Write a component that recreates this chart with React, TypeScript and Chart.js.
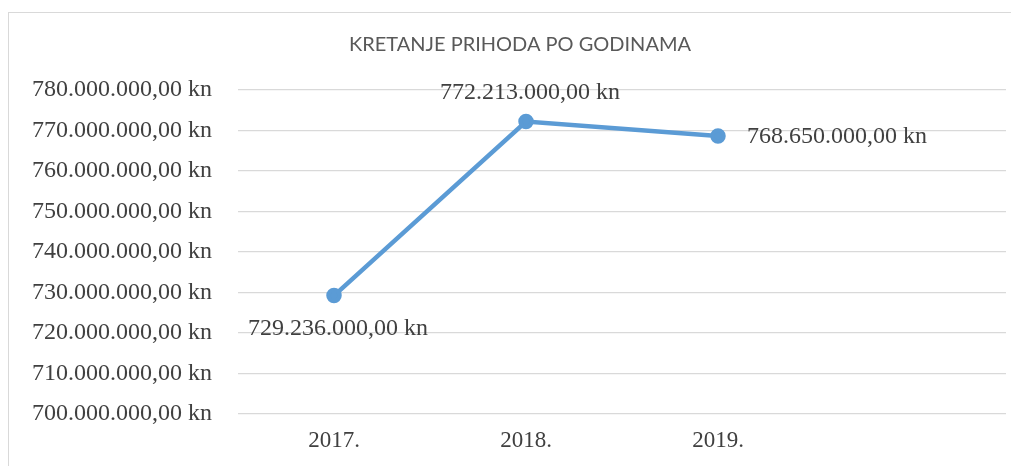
import React, { useEffect, useRef } from "react";
import { Chart, registerables } from "chart.js";

Chart.register(...registerables);

const TITLE = "KRETANJE PRIHODA PO GODINAMA";
const categories = ["2017.", "2018.", "2019.", ""];
const revenue = [729236000, 772213000, 768650000, null];
const yMin = 700000000;
const yMax = 780000000;
const yStep = 10000000;

const fmt = (v: number) => {
  const s = Math.round(v).toString().replace(/\B(?=(\d{3})+(?!\d))/g, ".");
  return s + ",00 kn";
};

const SERIF = "'Liberation Serif', 'Times New Roman', serif";
const TEXT = "#595959";
const BLUE = "#5b9bd5";

export default function App() {
  const ref = useRef<HTMLCanvasElement | null>(null);
  useEffect(() => {
    if (!ref.current) return;
    const overlay = {
      id: "overlay",
      afterDatasetsDraw(chart: any) {
        const ctx = chart.ctx;
        ctx.save();
        ctx.fillStyle = TEXT;
        ctx.font = "20px Lato, 'Open Sans', sans-serif";
        ctx.textAlign = "center";
        ctx.textBaseline = "middle";
        ctx.fillText(TITLE, 512, 37);
        ctx.font = "24px " + SERIF;
        ctx.fillStyle = "#404040";
        const meta = chart.getDatasetMeta(0);
        const offs = [
          { dx: 4, dy: 33, align: "center" },
          { dx: 4, dy: -29, align: "center" },
          { dx: 29, dy: 1, align: "left" },
        ];
        revenue.forEach((v, i) => {
          if (v == null) return;
          const p = meta.data[i];
          const o = offs[i];
          ctx.textAlign = o.align;
          ctx.fillText(fmt(v), p.x + o.dx, p.y + o.dy);
        });
        ctx.restore();
      },
    };
    const chart = new Chart(ref.current, {
      type: "line",
      data: {
        labels: categories,
        datasets: [
          {
            data: revenue as any,
            borderColor: BLUE,
            backgroundColor: BLUE,
            borderWidth: 4.5,
            pointRadius: 5.5,
            pointBackgroundColor: BLUE,
            pointBorderColor: BLUE,
            tension: 0,
          },
        ],
      },
      options: {
        responsive: false,
        animation: false,
        layout: { padding: { left: 0, top: 82, right: 13, bottom: 0 } },
        plugins: { legend: { display: false }, tooltip: { enabled: false } },
        scales: {
          x: {
            offset: true,
            grid: { display: false },
            border: { display: false },
            ticks: { color: "#404040", font: { family: SERIF, size: 23 }, padding: 5 },
            afterFit: (s: any) => {
              s.height = 52;
            },
          },
          y: {
            min: yMin,
            max: yMax,
            grid: { color: "#d9d9d9", lineWidth: 1.3, drawTicks: false },
            border: { display: false },
            ticks: {
              stepSize: yStep,
              color: "#404040",
              font: { family: SERIF, size: 24 },
              padding: 26,
              callback: (v: any) => fmt(Number(v)),
            },
            afterFit: (s: any) => {
              s.width = 230;
            },
          },
        },
      },
      plugins: [overlay],
    });
    return () => chart.destroy();
  }, []);
  return (
    <div style={{ position: "relative", width: 1011, height: 458, overflow: "hidden" }}>
      <div
        style={{
          position: "absolute",
          left: 0,
          top: 4,
          width: 1100,
          height: 600,
          border: "1px solid #d9d9d9",
        }}
      />
      <canvas ref={ref} width={1011} height={458} style={{ position: "absolute", left: 0, top: 0 }} />
    </div>
  );
}
